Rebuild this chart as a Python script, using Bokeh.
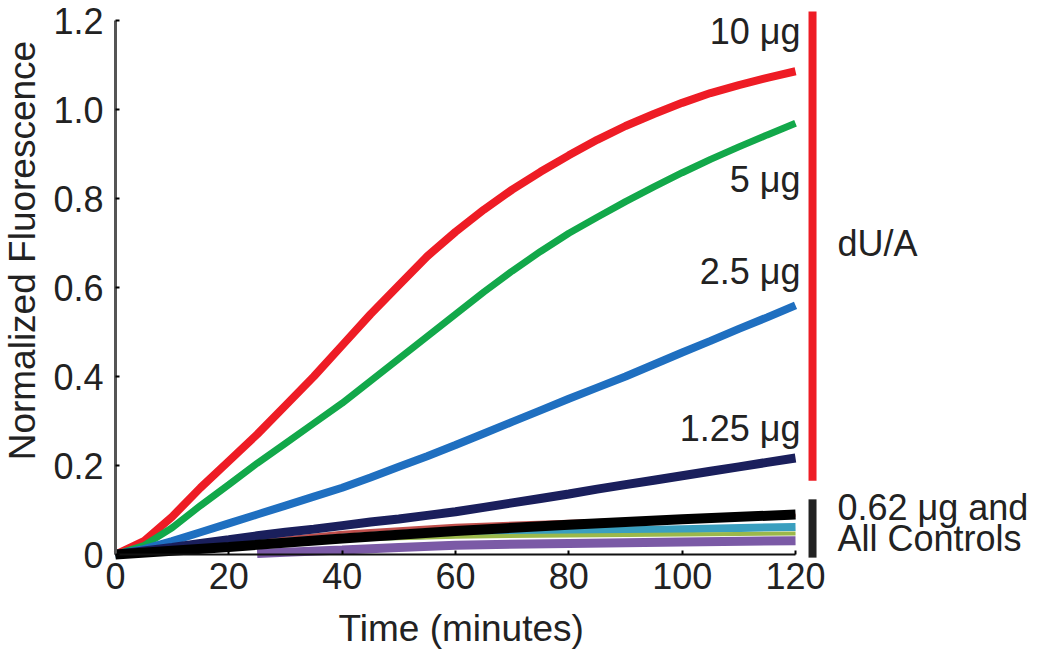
import math
from bokeh.plotting import figure
from bokeh.models import Range1d, FixedTicker, LinearAxis
from bokeh.core.properties import value
from bokeh.embed import file_html
from bokeh.resources import INLINE

# ---------------- data ----------------
time_min = [0, 5, 10, 15, 20, 25, 30, 35, 40, 45, 50, 55, 60,
            65, 70, 75, 80, 85, 90, 95, 100, 105, 110, 115, 120]
red_10ug = [0.0, 0.03, 0.085, 0.15, 0.21, 0.27, 0.335, 0.40, 0.47, 0.54, 0.605, 0.67, 0.725,
            0.775, 0.82, 0.86, 0.897, 0.932, 0.963, 0.99, 1.015, 1.037, 1.055, 1.071, 1.086]
green_5ug = [0.0, 0.02, 0.06, 0.11, 0.157, 0.205, 0.25, 0.295, 0.34, 0.39, 0.44, 0.49, 0.54,
             0.59, 0.637, 0.681, 0.722, 0.758, 0.793, 0.826, 0.858, 0.888, 0.916, 0.943, 0.969]
blue_2_5ug = [0.0, 0.012, 0.03, 0.05, 0.07, 0.09, 0.11, 0.13, 0.15, 0.173, 0.197, 0.221, 0.246,
              0.272, 0.298, 0.324, 0.35, 0.375, 0.40, 0.427, 0.454, 0.48, 0.507, 0.533, 0.56]
navy_1_25ug = [0.0, 0.008, 0.016, 0.025, 0.033, 0.042, 0.05, 0.057, 0.065, 0.073, 0.08, 0.088, 0.096,
               0.106, 0.116, 0.126, 0.136, 0.147, 0.157, 0.167, 0.177, 0.187, 0.197, 0.207, 0.217]

time_ctrl = [0, 20, 40, 60, 80, 100, 120]
black_0_62ug = [0.0, 0.017, 0.036, 0.053, 0.067, 0.079, 0.09]
ctrl_brown = [0.0, 0.025, 0.05, 0.066, 0.075, 0.082, 0.088]
ctrl_teal = [0.0, 0.02, 0.037, 0.046, 0.052, 0.057, 0.062]
ctrl_olive = [0.0, 0.02, 0.033, 0.04, 0.043, 0.045, 0.047]
time_purple = [25, 30, 40, 50, 60, 80, 100, 120]
ctrl_purple = [0.002, 0.005, 0.01, 0.016, 0.021, 0.025, 0.028, 0.031]

x_ticks = [0, 20, 40, 60, 80, 100, 120]
y_ticks = [0, 0.2, 0.4, 0.6, 0.8, 1.0, 1.2]
y_tick_labels = ["0", "0.2", "0.4", "0.6", "0.8", "1.0", "1.2"]

dose_labels = ["10 μg", "5 μg", "2.5 μg", "1.25 μg"]
dose_label_y = [1.176, 0.842, 0.636, 0.283]

side_labels = ["dU/A", "0.62 μg and", "All Controls"]
side_label_y = [0.699, 0.106, 0.036]

# ---------------- layout constants ----------------
FONT = "Liberation Sans"
TXT = "#222222"
LABEL_T = 120.9      # right edge of dose labels
BRACKET_T = 123.0    # vertical bracket bars
SIDE_T = 127.4       # side texts

p = figure(width=1034, height=650,
           x_range=Range1d(-20.29, 162.17), y_range=Range1d(-0.2157, 1.245),
           output_backend="svg", toolbar_location=None,
           x_axis_location=None, y_axis_location=None,
           min_border=0, min_border_left=0, min_border_right=0,
           min_border_top=0, min_border_bottom=0)
p.outline_line_color = None
p.xgrid.visible = False
p.ygrid.visible = False
p.background_fill_color = "white"

xa = LinearAxis(ticker=FixedTicker(ticks=x_ticks), bounds=(0, 120), fixed_location=0)
ya = LinearAxis(ticker=FixedTicker(ticks=y_ticks), bounds=(0, 1.2), fixed_location=0,
                major_label_overrides={t: s for t, s in zip(y_ticks, y_tick_labels)})
for ax, lc, lw in ((xa, "#111111", 2), (ya, "#555555", 3)):
    ax.axis_line_color = lc
    ax.axis_line_width = lw
    ax.major_tick_in = 4
    ax.major_tick_out = 0
    ax.major_tick_line_color = "black"
    ax.major_tick_line_width = 2
    ax.minor_tick_line_color = None
    ax.major_label_text_font = FONT
    ax.major_label_text_font_size = "36px"
    ax.major_label_text_color = TXT
xa.major_label_standoff = 8
ya.major_label_standoff = 12
p.add_layout(xa, "below")
p.add_layout(ya, "left")

# controls (underneath)
p.line(time_ctrl, ctrl_brown, line_color="#c0504d", line_width=3)
p.line(time_ctrl, ctrl_teal, line_color="#3a9fbf", line_width=8)
p.line(time_ctrl, ctrl_olive, line_color="#9bb84a", line_width=4)
p.line(time_purple, ctrl_purple, line_color="#7b5aa6", line_width=9)

# dU/A dose series
p.line(time_min, red_10ug, line_color="#ee1c25", line_width=8)
p.line(time_min, green_5ug, line_color="#12a84a", line_width=7)
p.line(time_min, blue_2_5ug, line_color="#1f6fc0", line_width=8)
p.line(time_min, navy_1_25ug, line_color="#1a1f5c", line_width=9)
p.line(time_ctrl, black_0_62ug, line_color="black", line_width=10)

# axis titles
p.text(x=[61], y=[-0.1663], text=["Time (minutes)"],
       text_font=value(FONT), text_font_size=value("37px"), text_color=TXT,
       text_align="center", text_baseline="middle")
p.text(x=[-16.4], y=[0.683], text=["Normalized Fluorescence"], angle=math.pi / 2,
       text_font=value(FONT), text_font_size=value("37px"), text_color=TXT,
       text_align="center", text_baseline="middle")

# dose labels
p.text(x=[LABEL_T] * len(dose_labels), y=dose_label_y, text=dose_labels,
       text_font=value(FONT), text_font_size=value("36px"), text_color=TXT,
       text_align="right", text_baseline="middle")

# brackets
p.segment(x0=[BRACKET_T], y0=[1.22], x1=[BRACKET_T], y1=[0.166],
          line_color="#ee1c25", line_width=8)
p.segment(x0=[BRACKET_T], y0=[0.124], x1=[BRACKET_T], y1=[-0.007],
          line_color="#222222", line_width=8)

p.text(x=[SIDE_T] * len(side_labels), y=side_label_y, text=side_labels,
       text_font=value(FONT), text_font_size=value("36px"), text_color=TXT,
       text_align="left", text_baseline="middle")

open("out.html", "w").write(file_html(p, INLINE))
